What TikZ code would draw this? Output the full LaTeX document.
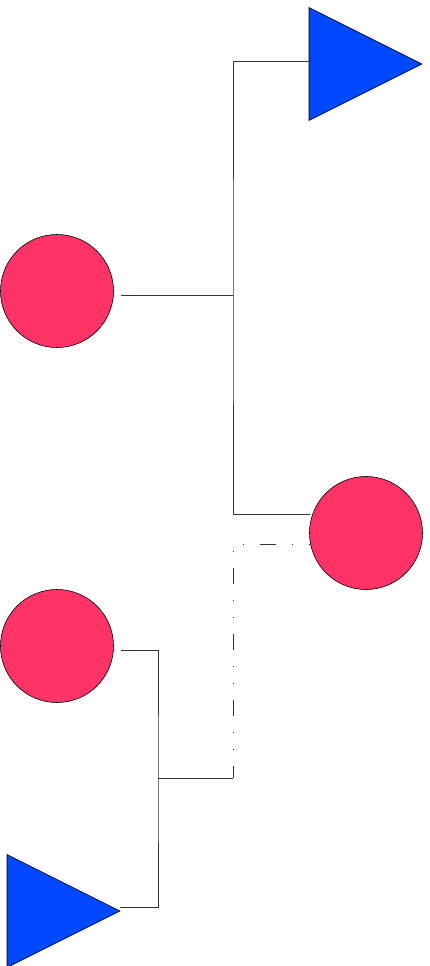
\documentclass[tikz,border=0pt]{standalone}
\usepackage{tikz}
\usetikzlibrary{positioning, shapes.geometric, calc}
\definecolor{rosered}{HTML}{FF3366}
\definecolor{brightblue}{HTML}{0047FF}
\definecolor{wiregray}{HTML}{333333}

\begin{document}
\begin{tikzpicture}[
  x=1pt, y=-1pt,
  dot/.style={circle, draw=black, line width=0.6pt, fill=rosered,
              minimum size=113pt, inner sep=0pt, outer sep=0pt},
  tri/.style={isosceles triangle, isosceles triangle stretches,
              shape border rotate=0, draw=black, line width=0.6pt,
              fill=brightblue, minimum width=113pt, minimum height=113pt,
              inner sep=0pt, outer sep=0pt, anchor=apex},
  wire/.style={draw=wiregray, line width=0.8pt},
  ghost/.style={wire, dash pattern=on 1pt off 16pt on 1pt off 16pt on 16pt off 16pt}
]
  \useasboundingbox (0,0) rectangle (430,966);

  \node[tri] (top) at (422,64) {};
  \node[dot] (left) at (57,291) {};
  \node[dot] (right) at (366,533) {};
  \node[dot] (low) at (57,646) {};
  \node[tri] (bottom) at (120,911) {};

  \coordinate (upjoin) at (233,295);
  \coordinate (lowjoin) at (158,778);
  \coordinate (lowend) at (233,778);

  % upper bracket
  \draw[wire] ([xshift=-113pt,yshift=3pt]top.apex) -| (upjoin) |- ([yshift=19pt]right.west);
  \draw[wire] ([xshift=7pt,yshift=-4pt]left.east) -- (upjoin);

  % lower bracket
  \draw[wire] ([xshift=7pt,yshift=-4pt]low.east) -| (lowjoin) |- ([yshift=4pt]bottom.apex);
  \draw[wire] (lowjoin) -- (lowend);
  \draw[ghost] ([yshift=-11pt]right.west) -| (lowend);
\end{tikzpicture}
\end{document}
